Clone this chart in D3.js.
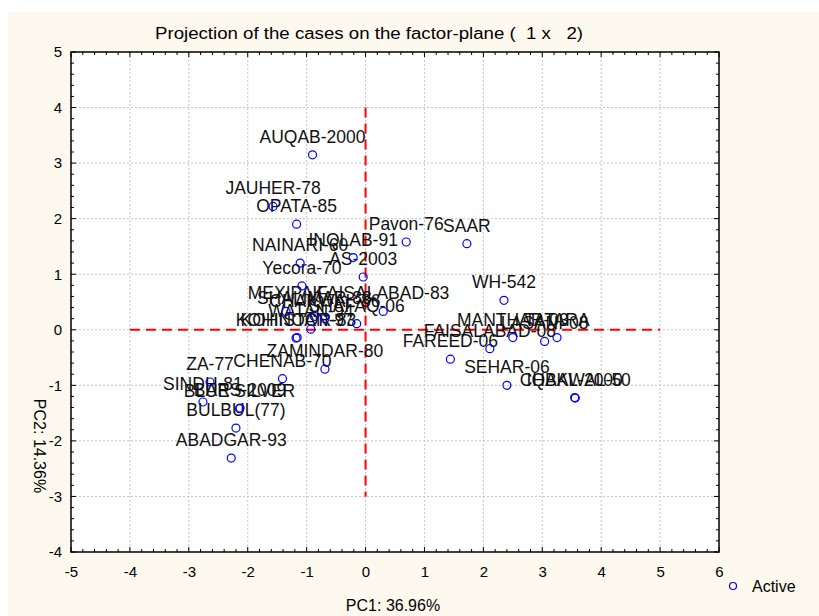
<!DOCTYPE html>
<html>
<head>
<meta charset="utf-8">
<script src="https://cdn.jsdelivr.net/npm/d3@7"></script>
<style>
  html, body { margin: 0; padding: 0; background: #fff; }
  svg { display: block; }
  .pre { white-space: pre; }
</style>
</head>
<body>
<svg id="chart" width="819" height="616"></svg>
<script>
// cases: name, PC1, PC2
const names = [
  "AUQAB-2000", "JAUHER-78", "OPATA-85", "NAINARI-60", "INQLAB-91", "AS-2003",
  "Pavon-76", "SAAR", "Yecora-70", "WH-542", "MEXIPAK", "FAISALABAD-83",
  "SHAFAQ-06", "SHALIMAR-88", "CHAKWAL-86", "WATAN-94", "KOHINOOR-83", "KOHISTAN-97",
  "ZAMINDAR-80", "CHENAB-70", "ZA-77", "SINDH-81", "BLUE SILVER", "BARS-2009",
  "BULBUL(77)", "ABADGAR-93", "MANTHAR-03", "LASANI-08", "TATARA", "FAISALABAD-08",
  "FAREED-06", "SEHAR-06", "CHAKWAL-50", "IQBAL-2000"
];
const pc1 = [
  -0.90, -1.57, -1.17, -1.11, -0.21, -0.04,
  0.69, 1.72, -1.08, 2.35, -1.35, 0.30,
  -0.15, -0.87, -0.69, -0.93, -1.18, -1.16,
  -0.69, -1.41, -2.64, -2.76, -2.14, -2.13,
  -2.20, -2.28, 2.50, 3.04, 3.25, 2.11,
  1.44, 2.40, 3.56, 3.55
];
const pc2 = [
  3.15, 2.22, 1.90, 1.20, 1.30, 0.95,
  1.58, 1.55, 0.79, 0.53, 0.33, 0.33,
  0.11, 0.24, 0.20, 0.01, -0.15, -0.14,
  -0.71, -0.88, -0.94, -1.30, -1.42, -1.41,
  -1.77, -2.31, -0.14, -0.21, -0.14, -0.34,
  -0.53, -1.00, -1.23, -1.22
];
const xTicks = [-5, -4, -3, -2, -1, 0, 1, 2, 3, 4, 5, 6];
const yTicks = [-4, -3, -2, -1, 0, 1, 2, 3, 4, 5];
const titleText = "Projection of the cases on the factor-plane (  1 x   2)";
const xTitle = "PC1: 36.96%";
const yTitle = "PC2: 14.36%";
const legendText = "Active";

const svg = d3.select("#chart");
const W = 819, H = 616;
const pL = 71, pR = 719, pT = 52, pB = 552;

const x = d3.scaleLinear().domain([-5, 6]).range([pL, pR]);
const y = d3.scaleLinear().domain([-4, 5]).range([pB, pT]);

const sans = "'Liberation Sans', Arial, sans-serif";

// background
svg.append("rect").attr("x", 8).attr("y", 12).attr("width", W - 8).attr("height", H - 12)
  .attr("fill", "#fdf9ee");
svg.append("rect").attr("x", pL).attr("y", pT).attr("width", pR - pL).attr("height", pB - pT)
  .attr("fill", "#fff");

// grid
const grid = svg.append("g").attr("stroke", "#c4c4c4").attr("stroke-dasharray", "2,2");
grid.selectAll(".gx").data(xTicks.slice(1, -1)).enter().append("line")
  .attr("x1", d => x(d)).attr("x2", d => x(d)).attr("y1", pT).attr("y2", pB);
grid.selectAll(".gy").data(yTicks.slice(1, -1)).enter().append("line")
  .attr("y1", d => y(d)).attr("y2", d => y(d)).attr("x1", pL).attr("x2", pR);

// red reference lines through the origin
svg.append("line").attr("x1", x(-4)).attr("x2", x(5)).attr("y1", y(0)).attr("y2", y(0))
  .attr("stroke", "#ff0000").attr("stroke-width", 2).attr("stroke-dasharray", "10,6");
svg.append("line").attr("x1", x(0)).attr("x2", x(0)).attr("y1", y(4)).attr("y2", y(-3))
  .attr("stroke", "#ff0000").attr("stroke-width", 2).attr("stroke-dasharray", "10,6");

// axes (ticks inward on all sides), plain hyphen for negatives
const fmt = d => String(d);
const ax = d3.axisBottom(x).tickValues(xTicks).tickSize(0).tickFormat(fmt).tickPadding(14);
svg.append("g").attr("transform", `translate(0,${pB})`).call(ax)
  .call(g => g.select(".domain").remove())
  .selectAll("text").attr("font-family", sans).attr("font-size", 15).attr("fill", "#000");
const ay = d3.axisLeft(y).tickValues(yTicks).tickSize(0).tickFormat(fmt).tickPadding(9);
svg.append("g").attr("transform", `translate(${pL},0)`).call(ay)
  .call(g => g.select(".domain").remove())
  .selectAll("text").attr("font-family", sans).attr("font-size", 15).attr("fill", "#000");

const minorX = d3.range(-5, 6.001, 0.2), minorY = d3.range(-4, 5.001, 0.2);
const tk = svg.append("g").attr("stroke", "#000").attr("stroke-width", 1);
minorX.forEach(v => {
  const len = Math.abs(v - Math.round(v)) < 1e-6 ? 5 : 3;
  tk.append("line").attr("x1", x(v)).attr("x2", x(v)).attr("y1", pB).attr("y2", pB - len);
  tk.append("line").attr("x1", x(v)).attr("x2", x(v)).attr("y1", pT).attr("y2", pT + len);
});
minorY.forEach(v => {
  const len = Math.abs(v - Math.round(v)) < 1e-6 ? 5 : 3;
  tk.append("line").attr("y1", y(v)).attr("y2", y(v)).attr("x1", pL).attr("x2", pL + len);
  tk.append("line").attr("y1", y(v)).attr("y2", y(v)).attr("x1", pR).attr("x2", pR - len);
});
svg.append("rect").attr("x", pL).attr("y", pT).attr("width", pR - pL).attr("height", pB - pT)
  .attr("fill", "none").attr("stroke", "#000").attr("stroke-width", 1.5);

// points and labels
const pts = names.map((n, i) => ({name: n, x: pc1[i], y: pc2[i]}));
svg.append("g").selectAll("text").data(pts).enter().append("text")
  .attr("x", d => x(d.x)).attr("y", d => y(d.y) - 12)
  .attr("text-anchor", "middle").attr("font-family", sans).attr("font-size", 17.5)
  .attr("fill", "#111").text(d => d.name);
svg.append("g").selectAll("circle").data(pts).enter().append("circle")
  .attr("cx", d => x(d.x)).attr("cy", d => y(d.y)).attr("r", 4)
  .attr("fill", "none").attr("stroke", "#0000ff").attr("stroke-width", 1.2);

// titles
svg.append("text").attr("class", "pre").attr("x", 369).attr("y", 39).attr("text-anchor", "middle")
  .attr("font-family", sans).attr("font-size", 16).attr("textLength", 428)
  .attr("lengthAdjust", "spacingAndGlyphs").text(titleText);
svg.append("text").attr("x", 393).attr("y", 611).attr("text-anchor", "middle")
  .attr("font-family", sans).attr("font-size", 16).text(xTitle);
svg.append("text").attr("transform", "translate(34,446) rotate(90)").attr("text-anchor", "middle")
  .attr("font-family", sans).attr("font-size", 16).text(yTitle);

// legend
svg.append("circle").attr("cx", 733).attr("cy", 586).attr("r", 3.5)
  .attr("fill", "none").attr("stroke", "#0000ff").attr("stroke-width", 1.2);
svg.append("text").attr("x", 752).attr("y", 592).attr("font-family", sans).attr("font-size", 16)
  .text(legendText);
</script>
</body>
</html>
